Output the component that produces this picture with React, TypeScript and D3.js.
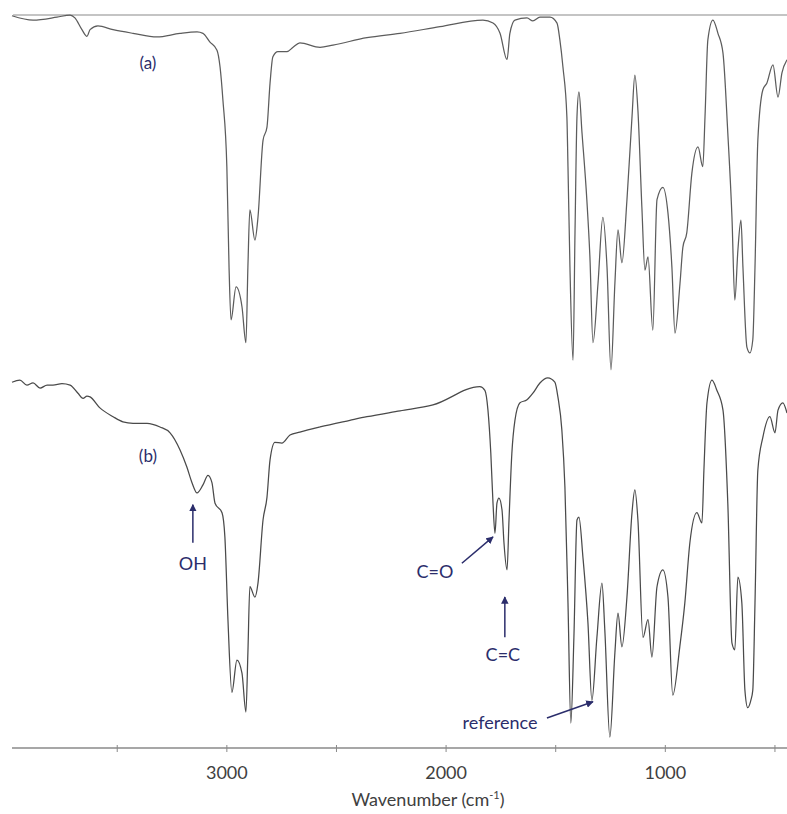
import React from "react";
import * as d3 from "d3";

// ---- data ----
const wavenumberA = [3980,3884,3775,3715,3693,3661,3638,3624,3588,3519,3428,3319,3214,3136,3109,3077,3045,3031,3018,3000,2990,2981,2958,2931,2913,2904,2895,2872,2858,2835,2817,2803,2790,2767,2726,2698,2667,2575,2516,2361,2210,2028,1832,1786,1754,1722,1709,1686,1631,1604,1572,1526,1494,1481,1467,1449,1444,1435,1421,1412,1403,1394,1380,1358,1344,1330,1307,1285,1266,1248,1230,1216,1198,1175,1152,1139,1125,1107,1093,1079,1057,1038,1011,988,970,956,933,920,902,879,851,829,819,806,783,760,737,715,696,683,669,655,646,628,614,601,591,578,555,537,509,486,468,445];
const transA = [99.9,99.3,99.7,100,99.6,98.0,97.1,98.0,98.5,98.0,97.5,97.0,97.5,97.7,97.5,96.3,95.2,92.9,88.4,79.3,65.6,58.4,62.9,60.2,55.3,65.6,73.4,69.3,72.4,82.9,84.7,90.7,94.3,95.0,95.0,95.6,96.2,95.6,95.9,96.9,97.5,98.4,99.3,98.9,97.5,93.9,97.5,99.3,99.6,99.2,99.7,99.7,98.9,96.6,92.9,86.1,79.3,65.6,52.9,70.3,86.1,89.5,83.9,74.8,67.0,55.3,63.4,72.4,65.6,51.6,63.4,70.7,66.2,74.8,86.1,91.8,87.0,73.8,65.2,67.0,57.0,74.8,76.5,73.0,65.6,56.6,63.4,68.3,70.3,78.4,82.0,79.3,86.1,96.6,99.3,97.5,94.8,83.9,72.4,61.1,67.9,72.0,65.6,54.7,53.9,55.7,65.6,82.9,89.8,90.7,93.2,88.8,92.1,93.9];

const wavenumberB = [3980,3944,3912,3884,3852,3820,3793,3752,3715,3679,3656,3638,3624,3579,3519,3474,3428,3364,3305,3259,3214,3182,3159,3136,3109,3086,3068,3054,3022,3009,2995,2977,2954,2931,2913,2904,2895,2872,2858,2835,2817,2803,2781,2749,2712,2667,2575,2439,2361,2210,2060,1846,1823,1809,1796,1786,1777,1768,1759,1745,1736,1722,1713,1700,1686,1663,1631,1604,1572,1536,1504,1490,1472,1458,1444,1431,1417,1403,1394,1376,1353,1335,1312,1289,1276,1253,1230,1216,1198,1175,1152,1139,1125,1102,1079,1061,1038,1011,988,966,934,911,888,856,833,824,810,787,765,737,715,696,683,669,651,637,624,610,601,591,578,555,523,500,486,464,445];
const transB = [49.9,50.2,49.5,49.8,49.1,49.5,49.5,49.7,49.5,48.4,47.7,48.0,47.9,46.4,45.2,44.5,44.3,44.3,43.8,43.0,40.7,38.3,36.2,34.8,35.9,37.2,36.2,33.4,32.1,28.8,17.5,7.6,12.0,10.2,4.9,13.0,22.0,20.6,22.5,31.1,34.2,39.3,41.7,41.6,42.7,43.1,43.8,44.7,45.2,46.0,46.8,49.3,48.8,46.1,40.2,33.4,29.3,33.4,34.1,32.5,28.0,24.3,31.1,40.2,44.7,47.1,47.5,48.4,49.8,50.5,49.9,47.9,43.4,35.6,19.8,3.4,15.1,31.1,31.5,26.1,17.1,6.5,15.1,22.5,16.1,1.5,13.0,18.4,13.8,20.6,32.1,35.2,31.1,15.1,17.5,12.4,22.0,24.3,20.6,7.2,13.8,19.8,28.0,32.1,30.7,37.9,47.1,50.2,48.8,46.1,33.4,14.3,13.4,23.3,19.8,7.9,5.5,6.5,7.9,19.8,37.9,42.4,45.2,43.0,46.1,47.1,45.7];

const tickValues = [3500, 3000, 2500, 2000, 1500, 1000, 500];
const labeledTicks = [3000, 2000, 1000];

const seriesLabels = ["(a)", "(b)"];
const seriesLabelW = [3360, 3360];
const seriesLabelT = [93.5, 39.8];

const noteText = ["OH", "C=O", "C=C", "reference"];
const noteW = [3155, 2051, 1741, 1754];
const noteT = [25.2, 24.0, 12.7, 3.5];
const arrowFromW = [3155, 1928, 1732, 1540];
const arrowFromT = [28.0, 25.2, 15.1, 4.1];
const arrowToW = [3155, 1786, 1732, 1330];
const arrowToT = [33.2, 28.8, 20.6, 6.3];

const FONT = "Lato, 'Open Sans', sans-serif";
const NAVY = "#2b2d6b";

export default function App() {
  const W = 787, H = 814;
  const x = d3.scaleLinear().domain([3980, 445]).range([12, 787]);
  const y = d3.scaleLinear().domain([0, 100]).range([748, 15]);
  const line = d3
    .line<[number, number]>()
    .x(d => x(d[0]))
    .y(d => y(d[1]))
    .curve(d3.curveMonotoneX);
  const dataA: [number, number][] = wavenumberA.map((w, i) => [w, transA[i]]);
  const dataB: [number, number][] = wavenumberB.map((w, i) => [w, transB[i]]);
  const axisY = y(0);

  return (
    <svg width={W} height={H} style={{ position: "absolute", left: 0, top: 0, background: "#fff" }}>
      <defs>
        <marker id="ah" viewBox="0 0 10 10" refX="9" refY="5" markerWidth="5" markerHeight="5" orient="auto">
          <path d="M0,0 L10,5 L0,10 z" fill={NAVY} />
        </marker>
      </defs>
      <rect width={W} height={H} fill="#fff" />
      {/* top border */}
      <line x1={x(3975)} x2={W} y1={y(100)} y2={y(100)} stroke="#8a8a8a" strokeWidth={1.2} />
      {/* x axis */}
      <line x1={x(3980)} x2={W} y1={axisY} y2={axisY} stroke="#8a8a8a" strokeWidth={1.3} />
      {tickValues.map(t => (
        <line key={t} x1={x(t)} x2={x(t)} y1={axisY - 3} y2={axisY + 4} stroke="#8a8a8a" strokeWidth={1} />
      ))}
      {labeledTicks.map(t => (
        <text key={t} x={x(t)} y={779} textAnchor="middle" fontFamily={FONT} fontSize={18} fill="#404040">{t}</text>
      ))}
      <text x={428} y={806} textAnchor="middle" fontFamily={FONT} fontSize={18} fill="#404040">
        Wavenumber (cm<tspan dy={-7} fontSize={11}>-1</tspan><tspan dy={7}>)</tspan>
      </text>
      {/* spectra */}
      <path d={line(dataA) || ""} fill="none" stroke="#5c5c5c" strokeWidth={1.25} strokeLinejoin="round" />
      <path d={line(dataB) || ""} fill="none" stroke="#4a4a4a" strokeWidth={1.25} strokeLinejoin="round" />
      {/* series labels */}
      {seriesLabels.map((s, i) => (
        <text key={s} x={x(seriesLabelW[i])} y={y(seriesLabelT[i])} dy="0.35em" textAnchor="middle" fontFamily={FONT} fontSize={17} fill={NAVY}>{s}</text>
      ))}
      {/* annotations */}
      {noteText.map((s, i) => (
        <g key={s}>
          <line x1={x(arrowFromW[i])} y1={y(arrowFromT[i])} x2={x(arrowToW[i])} y2={y(arrowToT[i])} stroke={NAVY} strokeWidth={1.5} markerEnd="url(#ah)" />
          <text x={x(noteW[i])} y={y(noteT[i])} dy="0.35em" textAnchor="middle" fontFamily={FONT} fontSize={18} fill={NAVY}>{s}</text>
        </g>
      ))}
    </svg>
  );
}
